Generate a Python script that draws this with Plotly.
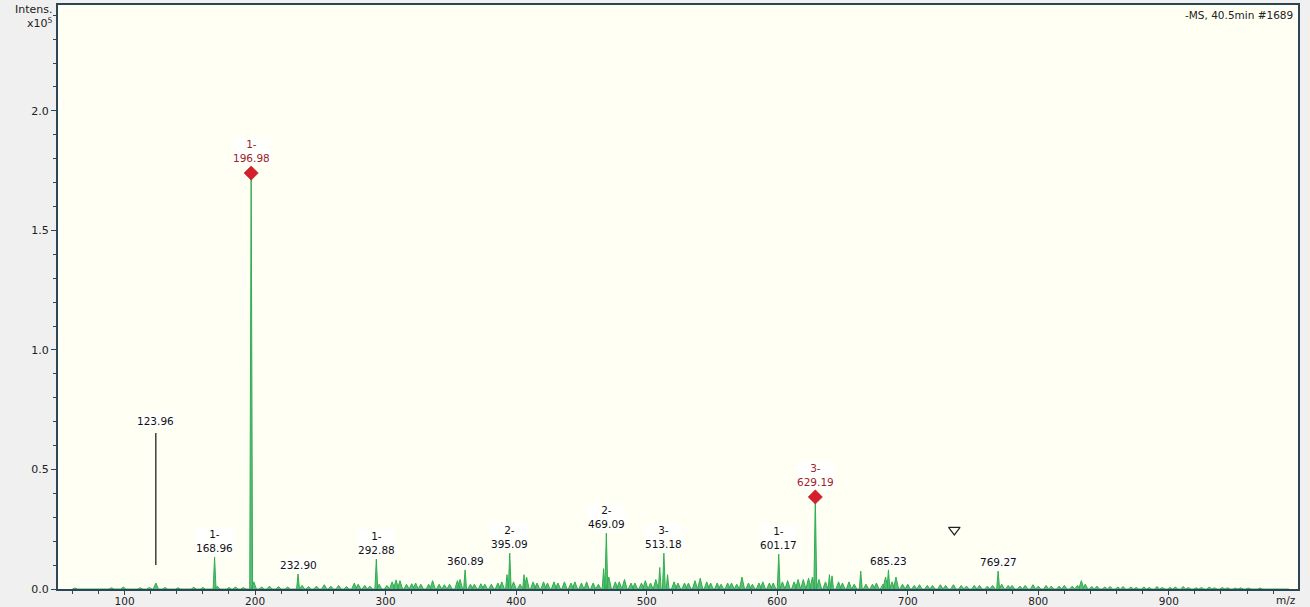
import plotly.graph_objects as go

# Negative-mode MS spectrum, 40.5 min, scan #1689 (intensity in units of 1e5)
peak_mz = [
    62, 75, 90, 99, 112, 119, 123.96, 131, 141, 153, 160,
    168.96, 171, 180, 185, 191, 196.98, 199, 205, 211, 218, 225,
    232.90, 236, 241, 247, 253, 258, 264, 270, 276, 279, 284, 288,
    292.88, 295, 301, 305, 308, 311, 316, 320, 323, 327, 333, 336,
    341, 345, 349, 355, 357, 360.89, 365, 368, 373, 376, 381, 386,
    389, 393, 395.09, 398, 403, 406, 408, 413, 416, 421, 424, 429,
    432, 437, 442, 445, 450, 454, 459, 463, 467, 469.09, 471, 476,
    479, 483, 488, 491, 496, 499, 503, 507, 510, 513.18, 516, 521,
    524, 529, 532, 537, 541, 546, 549, 554, 557, 562, 565, 569, 573,
    578, 581, 586, 589, 594, 597, 601.17, 604, 608, 613, 616, 620,
    624, 627, 629.19, 632, 637, 640, 642, 647, 650, 655, 659, 664,
    668, 673, 676, 681, 683, 685.23, 688, 691, 696, 700, 705, 709,
    715, 719, 725, 729, 735, 741, 745, 751, 755, 761, 765, 769.27,
    772, 777, 780, 786, 790, 796, 800, 806, 810, 816, 820, 826, 830,
    833, 836, 841, 845, 851, 855, 861, 865, 871, 875, 881, 885, 891,
    895, 901, 905, 911, 915, 921, 925, 931, 935, 941, 945, 951, 955,
    961, 970, 980, 990,
]
peak_int = [
    0.004, 0.003, 0.005, 0.008, 0.005, 0.006, 0.025, 0.006, 0.005, 0.007, 0.006,
    0.134, 0.012, 0.006, 0.008, 0.006, 1.74, 0.03, 0.008, 0.012, 0.010, 0.008,
    0.063, 0.015, 0.010, 0.012, 0.018, 0.012, 0.015, 0.010, 0.025, 0.020, 0.015, 0.012,
    0.125, 0.020, 0.015, 0.030, 0.038, 0.035, 0.020, 0.022, 0.025, 0.020, 0.020, 0.035,
    0.020, 0.018, 0.020, 0.035, 0.040, 0.080, 0.020, 0.020, 0.022, 0.020, 0.020, 0.025,
    0.030, 0.060, 0.150, 0.030, 0.020, 0.060, 0.050, 0.030, 0.025, 0.030, 0.025, 0.030,
    0.025, 0.030, 0.025, 0.030, 0.025, 0.030, 0.025, 0.020, 0.085, 0.234, 0.050, 0.030,
    0.030, 0.040, 0.025, 0.025, 0.025, 0.035, 0.025, 0.040, 0.090, 0.150, 0.060, 0.030,
    0.025, 0.025, 0.025, 0.035, 0.045, 0.030, 0.025, 0.025, 0.020, 0.025, 0.025, 0.020, 0.050,
    0.025, 0.020, 0.025, 0.030, 0.025, 0.025, 0.146, 0.030, 0.035, 0.030, 0.040, 0.040,
    0.045, 0.050, 0.385, 0.040, 0.030, 0.060, 0.055, 0.030, 0.025, 0.030, 0.020, 0.075,
    0.020, 0.020, 0.025, 0.020, 0.050, 0.080, 0.030, 0.050, 0.020, 0.020, 0.015, 0.018,
    0.015, 0.015, 0.018, 0.015, 0.018, 0.015, 0.012, 0.015, 0.015, 0.012, 0.015, 0.075,
    0.020, 0.015, 0.015, 0.012, 0.015, 0.018, 0.012, 0.015, 0.012, 0.012, 0.015, 0.012, 0.015,
    0.035, 0.020, 0.010, 0.012, 0.008, 0.010, 0.008, 0.010, 0.008, 0.006, 0.008, 0.006, 0.010,
    0.006, 0.006, 0.008, 0.010, 0.006, 0.005, 0.006, 0.008, 0.005, 0.006, 0.005, 0.004, 0.005,
    0.004, 0.004, 0.003, 0.003,
]

# Annotated peaks: m/z, intensity, charge label ("" when none), highlighted
label_mz = [123.96, 168.96, 196.98, 232.90, 292.88, 360.89, 395.09,
            469.09, 513.18, 601.17, 629.19, 685.23, 769.27]
label_int = [0.025, 0.134, 1.74, 0.063, 0.125, 0.080, 0.150,
             0.234, 0.150, 0.146, 0.385, 0.080, 0.075]
label_charge = ["", "1-", "1-", "", "1-", "", "2-",
                "2-", "3-", "1-", "3-", "", ""]
label_marked = [False, False, True, False, False, False, False,
                False, False, False, True, False, False]

# Manual marker line drawn for m/z 123.96 (intensity span)
marker_line_mz = 123.96
marker_line_span = [0.10, 0.653]

# Precursor indicator
precursor_mz = 735.7
precursor_int = 0.247

GREEN = "#2fae52"
FRAME = "#2b4656"
FONT = "DejaVu Sans"

# profile trace: each centroid rendered as a narrow peak
xs, ys = [], []
for m, h in sorted(zip(peak_mz, peak_int)):
    w = 1.1 if h > 0.05 else 2.0
    xs += [m - w, m, m + w]
    ys += [0, h, 0]

fig = go.Figure()
fig.add_trace(go.Scatter(
    x=xs, y=ys, mode="lines",
    line=dict(color=GREEN, width=1),
    fill="tozeroy", fillcolor="rgba(47,174,82,0.8)",
    hoverinfo="skip", showlegend=False,
))

# highlighted peaks marked with diamonds
mk_x = [m for m, f in zip(label_mz, label_marked) if f]
mk_y = [h for h, f in zip(label_int, label_marked) if f]
fig.add_trace(go.Scatter(
    x=mk_x, y=mk_y, mode="markers",
    marker=dict(symbol="diamond", size=11, color="#d3202b",
                line=dict(color="#b01820", width=0.5)),
    showlegend=False, hoverinfo="skip",
))

fig.add_trace(go.Scatter(
    x=[precursor_mz], y=[precursor_int], mode="markers",
    marker=dict(symbol="triangle-down-open", size=10, color="#222",
                line=dict(width=1.2)),
    showlegend=False, hoverinfo="skip",
))

fig.add_shape(type="line", x0=marker_line_mz, x1=marker_line_mz,
              y0=marker_line_span[0], y1=marker_line_span[1],
              line=dict(color="#111", width=1.2))

for m, h, z, marked in zip(label_mz, label_int, label_charge, label_marked):
    txt = f"{m:.2f}" if not z else f"{z}<br>{m:.2f}"
    y = h
    shift = 2
    if marked:
        shift = 8
    if m == marker_line_mz:
        y = marker_line_span[1]
        shift = 5
    fig.add_annotation(
        x=m, y=y, text=txt, showarrow=False, yanchor="bottom",
        yshift=shift, align="center",
        font=dict(family=FONT, size=10.5,
                  color="#9b2326" if marked else "#111"),
        bgcolor="rgba(255,255,255,0.85)", borderpad=0,
    )

fig.add_annotation(x=1, y=1, xref="paper", yref="paper", xanchor="right",
                   yanchor="top", xshift=-3, yshift=-2, showarrow=False,
                   text="-MS, 40.5min #1689",
                   font=dict(family=FONT, size=10.5, color="#222"))
fig.add_annotation(x=1, y=0, xref="paper", yref="paper", xanchor="right",
                   yanchor="top", xshift=0, yshift=-3, showarrow=False,
                   text="m/z", font=dict(family=FONT, size=10.5, color="#222"))
fig.add_annotation(x=0, y=1, xref="paper", yref="paper", xanchor="right",
                   yanchor="top", xshift=-3, yshift=4, showarrow=False,
                   text="Intens.<br>x10<sup>5</sup>", align="right",
                   font=dict(family=FONT, size=11, color="#222"))

fig.update_layout(
    width=1310, height=607,
    margin=dict(l=58, r=12, t=5, b=18, autoexpand=False),
    paper_bgcolor="#f0f0f0",
    plot_bgcolor="#fffff4",
    font=dict(family=FONT, size=10.5, color="#222"),
    xaxis=dict(
        range=[49, 999], tickmode="array", automargin=False,
        tickvals=[100, 200, 300, 400, 500, 600, 700, 800, 900],
        ticks="outside", ticklen=4, tickcolor=FRAME,
        ticklabelstandoff=-3,
        minor=dict(dtick=20, tick0=0, ticks="outside", ticklen=3, tickcolor=FRAME),
        showgrid=False, zeroline=False,
        showline=True, linecolor=FRAME, linewidth=2, mirror=True,
        tickfont=dict(family=FONT, size=10.5, color="#222"),
    ),
    yaxis=dict(
        range=[0, 2.443], tickmode="array", automargin=False,
        tickvals=[0, 0.5, 1.0, 1.5, 2.0], tickformat=".1f",
        ticks="outside", ticklen=5, tickcolor=FRAME,
        minor=dict(dtick=0.1, tick0=0, ticks="outside", ticklen=3, tickcolor=FRAME),
        showgrid=False, zeroline=False,
        showline=True, linecolor=FRAME, linewidth=2, mirror=True,
        tickfont=dict(family=FONT, size=11, color="#222"),
    ),
)

fig.write_html("out.html")
